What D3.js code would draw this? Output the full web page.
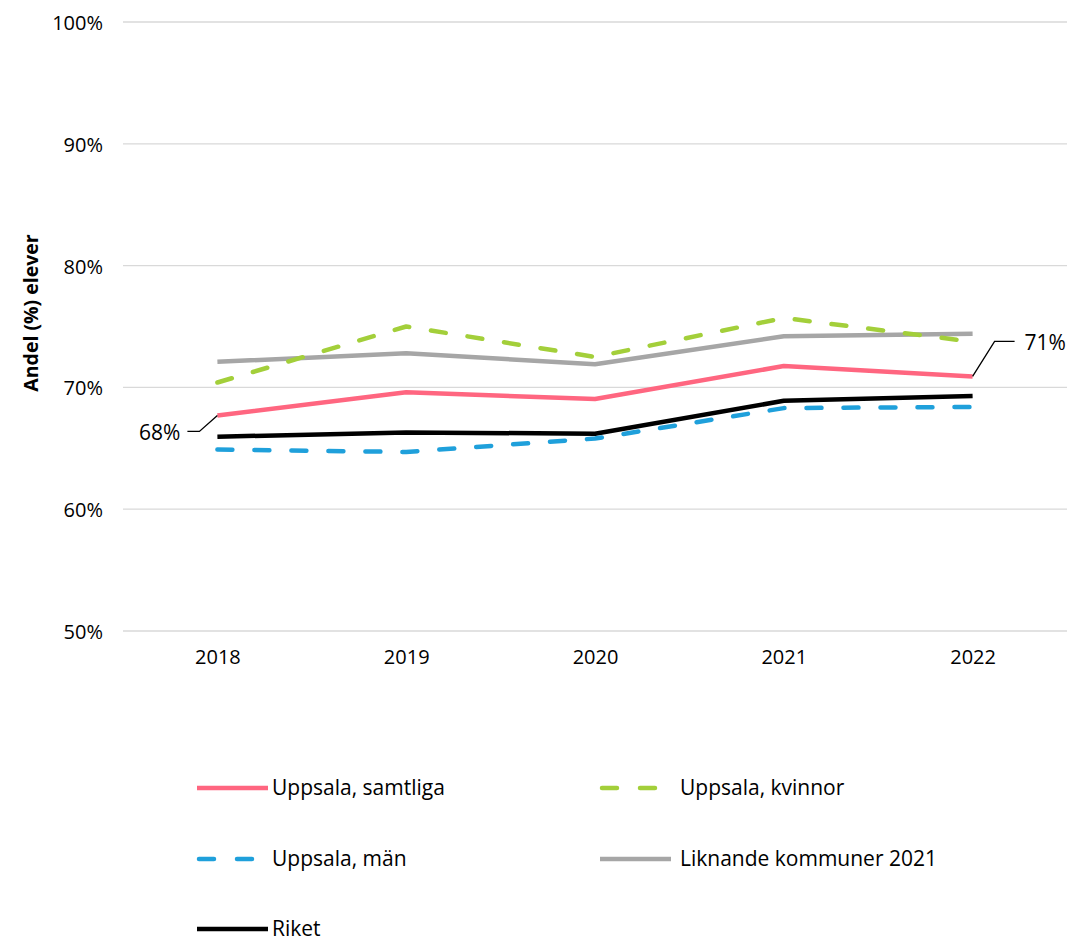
<!DOCTYPE html>
<html><head><meta charset="utf-8">
<script src="https://cdn.jsdelivr.net/npm/d3@7"></script>
<style>body{margin:0;background:#fff}svg{display:block}text{font-family:"Open Sans",sans-serif}</style>
</head><body><svg id="c" width="1074" height="942"></svg>
<script>
const years = ["2018","2019","2020","2021","2022"];
const samtliga = [67.7, 69.6, 69.05, 71.75, 70.9];
const kvinnor = [70.4, 75.0, 72.5, 75.7, 73.75];
const man = [64.9, 64.7, 65.8, 68.3, 68.4];
const liknande = [72.1, 72.8, 71.9, 74.2, 74.4];
const riket = [65.95, 66.3, 66.2, 68.9, 69.3];
const yTicks = [50, 60, 70, 80, 90, 100];
const seriesNames = ["Uppsala, samtliga","Uppsala, kvinnor","Uppsala, män","Liknande kommuner 2021","Riket"];

const series = [
  {name: seriesNames[0], values: samtliga, color: "#FF6680", dash: null},
  {name: seriesNames[1], values: kvinnor, color: "#A3CF3A", dash: "15,22"},
  {name: seriesNames[2], values: man, color: "#1FA0DB", dash: "15,22"},
  {name: seriesNames[3], values: liknande, color: "#A6A6A6", dash: null},
  {name: seriesNames[4], values: riket, color: "#000000", dash: null}
];

const svg = d3.select("#c");
const x = d3.scalePoint().domain(years).range([123, 1067]).padding(0.5);
const y = d3.scaleLinear().domain([50, 100]).range([631, 22]);

// gridlines
svg.append("g").selectAll("line").data(yTicks).join("line")
  .attr("x1", 123).attr("x2", 1067)
  .attr("y1", d => y(d)).attr("y2", d => y(d))
  .attr("stroke", "#D9D9D9").attr("stroke-width", 1.3);

// y axis labels
const yAxis = d3.axisLeft(y).tickValues(yTicks).tickFormat(d => d + "%").tickSize(0).tickPadding(0);
const ya = svg.append("g").attr("transform", "translate(103,1)").call(yAxis);
ya.select(".domain").remove();
ya.selectAll("text").attr("font-size", 20).attr("fill", "#000").attr("font-family", "'Open Sans', sans-serif");

// x axis labels
const xAxis = d3.axisBottom(x).tickSize(0).tickPadding(0);
const xa = svg.append("g").attr("transform", "translate(0,650)").call(xAxis);
xa.select(".domain").remove();
xa.selectAll("text").attr("font-size", 20).attr("fill", "#000").attr("font-family", "'Open Sans', sans-serif");

// axis title
svg.append("text").attr("transform", "translate(38,313) rotate(-90)")
  .attr("text-anchor", "middle").attr("font-size", 19.5).attr("font-weight", "bold")
  .attr("font-family", "'Liberation Sans', Arial, sans-serif")
  .text("Andel (%) elever");

// lines
const line = d3.line().x((d, i) => x(years[i])).y(d => y(d));
const draw = [series[3], series[1], series[0], series[4], series[2]];
svg.append("g").selectAll("path").data(draw).join("path")
  .attr("d", d => line(d.values))
  .attr("fill", "none").attr("stroke", d => d.color)
  .attr("stroke-width", 4.5)
  .attr("stroke-linecap", d => d.dash ? "round" : "butt")
  .attr("stroke-linejoin", "round")
  .attr("stroke-dasharray", d => d.dash);

// data labels with leaders
const p0 = [x(years[0]), y(samtliga[0])];
svg.append("path").attr("d", `M${p0[0]},${p0[1]} L${p0[0]-18},${p0[1]+16} L${p0[0]-30},${p0[1]+16}`)
  .attr("fill", "none").attr("stroke", "#000").attr("stroke-width", 1.3);
svg.append("text").attr("x", p0[0]-37).attr("y", p0[1]+17).attr("dy", "0.35em")
  .attr("text-anchor", "end").attr("font-size", 21).text(Math.round(samtliga[0]) + "%");
const p4 = [x(years[4]), y(samtliga[4])];
svg.append("path").attr("d", `M${p4[0]},${p4[1]} L${p4[0]+22},${p4[1]-35} L${p4[0]+42},${p4[1]-35}`)
  .attr("fill", "none").attr("stroke", "#000").attr("stroke-width", 1.3);
svg.append("text").attr("x", p4[0]+52).attr("y", p4[1]-34).attr("dy", "0.35em")
  .attr("text-anchor", "start").attr("font-size", 21).text(Math.round(samtliga[4]) + "%");

// legend
const legPos = [[197, 788], [600, 788], [197, 859], [600, 859], [197, 929]];
const lg = svg.append("g").selectAll("g").data(series).join("g")
  .attr("transform", (d, i) => `translate(${legPos[i][0]},${legPos[i][1]})`);
lg.append("line")
  .attr("x1", d => d.dash ? 2 : 0).attr("x2", d => d.dash ? 62 : 71)
  .attr("y1", 0).attr("y2", 0)
  .attr("stroke", d => d.color).attr("stroke-width", 4.5)
  .attr("stroke-linecap", d => d.dash ? "round" : "butt")
  .attr("stroke-dasharray", d => d.dash ? "15,23" : null);
lg.append("text").attr("x", (d, i) => i % 2 === 1 ? 80 : 75).attr("y", 0).attr("dy", "0.35em")
  .attr("font-size", 21).text(d => d.name);
</script></body></html>
